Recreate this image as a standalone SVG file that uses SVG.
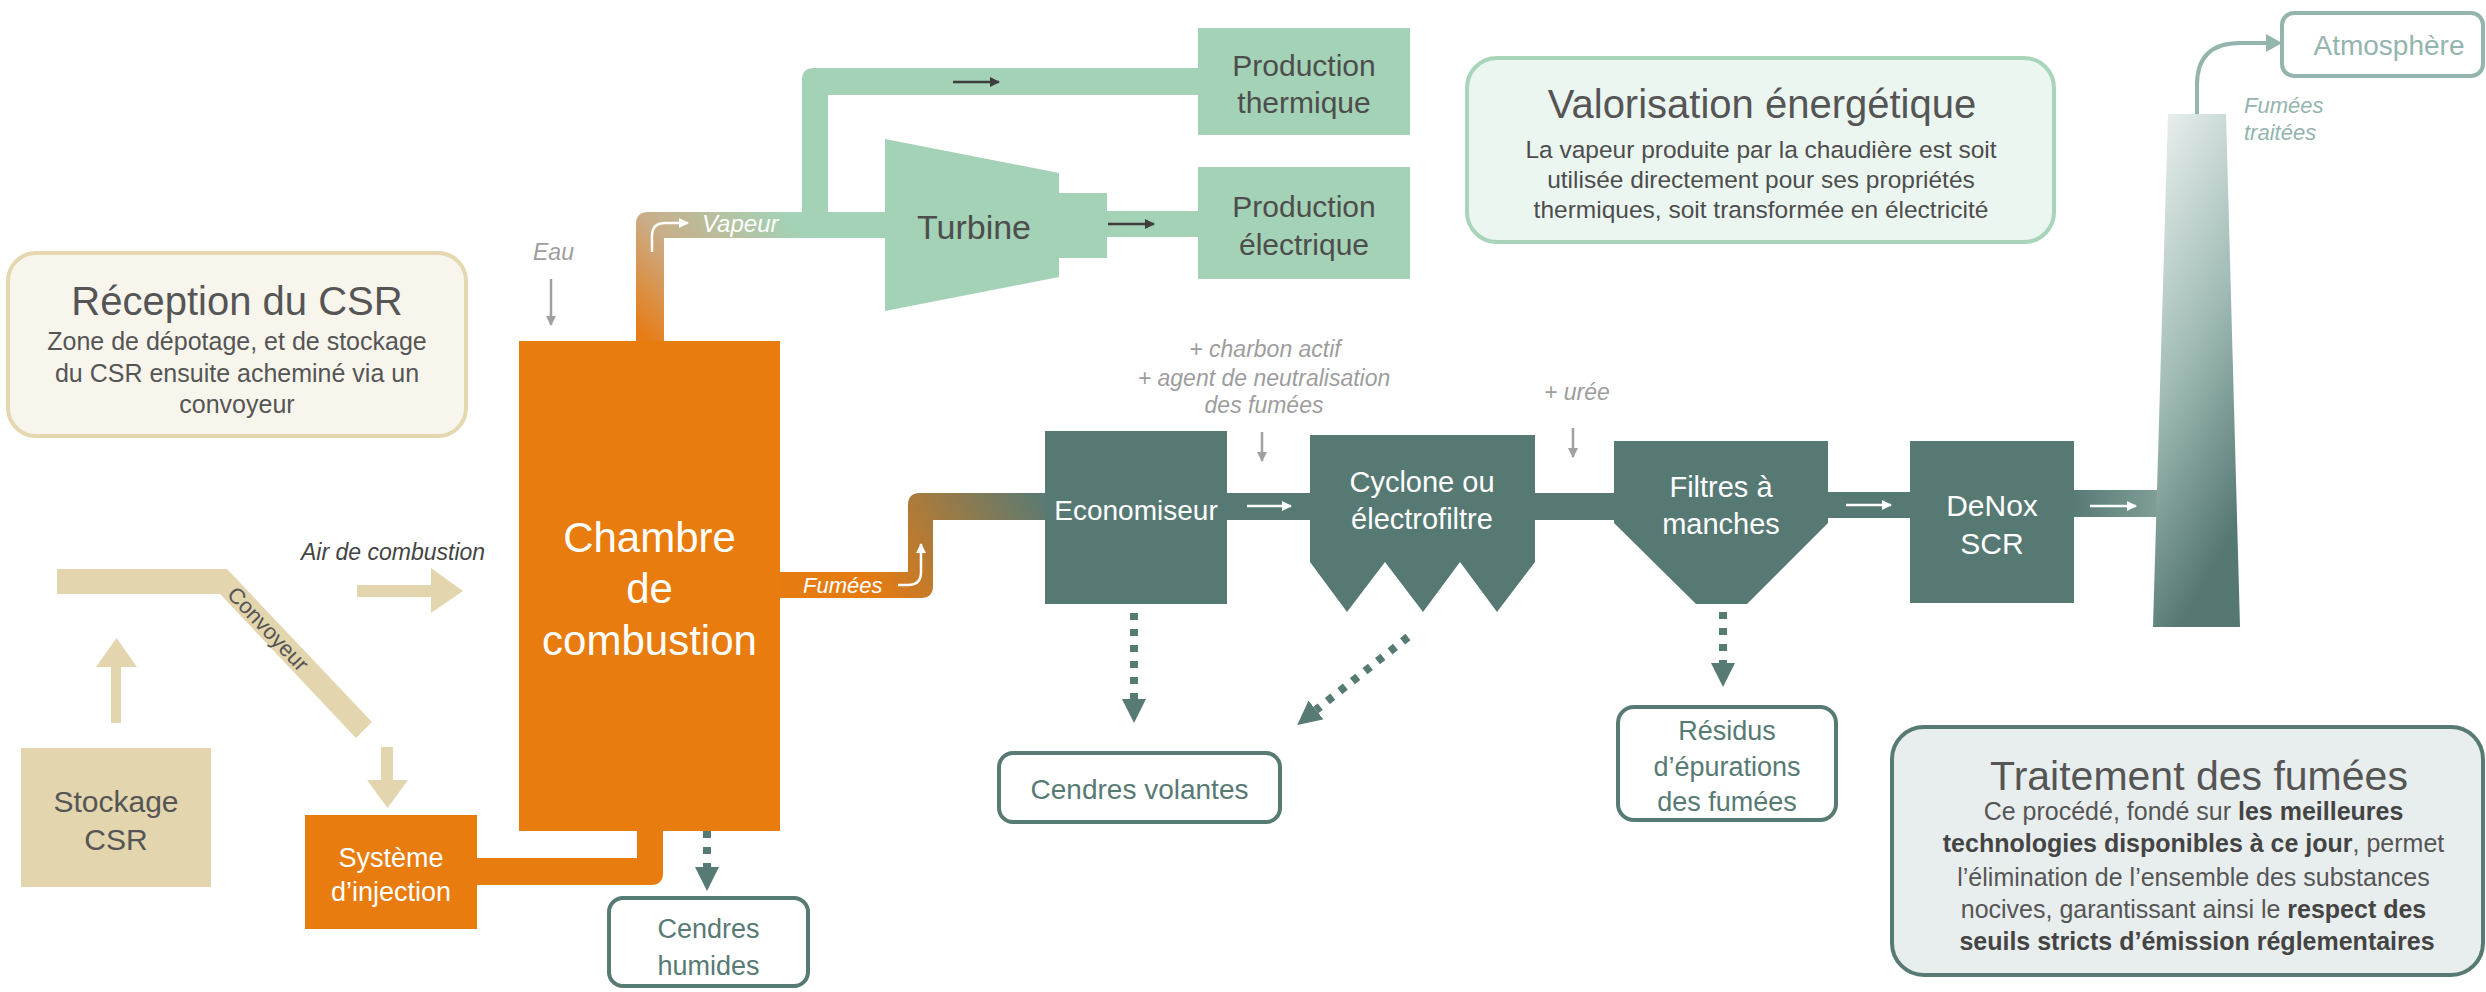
<svg xmlns="http://www.w3.org/2000/svg" width="2486" height="992" viewBox="0 0 2486 992">
<defs>
<style>
text{font-family:"Liberation Sans",Arial,sans-serif}
.m{text-anchor:middle}
.dk{fill:#4d4d4d}
.wt{fill:#fff}
.it{font-style:italic}
.gr{fill:#9d9d9d}
.tl{fill:#587a74}
.orange{fill:#e87c0e}
.beige{fill:#e3d5ad}
.green{fill:#a4d2b6}
.teal{fill:#577973}
.dash{stroke:#587a74;stroke-width:8;stroke-dasharray:7 9;fill:none}
.thin{fill:none;stroke-width:2.5}
.out{fill:#fff;stroke:#587a74;stroke-width:4}
</style>
<marker id="ah" viewBox="0 -12 24 24" refX="0" refY="0" markerWidth="24" markerHeight="24" markerUnits="userSpaceOnUse" orient="auto"><path d="M0 -12 L24 0 L0 12 Z" fill="#587a74"/></marker>
<marker id="aw" viewBox="0 -5 10 10" refX="9" refY="0" markerWidth="10" markerHeight="10" markerUnits="userSpaceOnUse" orient="auto"><path d="M0 -5 L10 0 L0 5 Z" fill="#fff"/></marker>
<marker id="ad" viewBox="0 -5 10 10" refX="9" refY="0" markerWidth="10" markerHeight="10" markerUnits="userSpaceOnUse" orient="auto"><path d="M0 -5 L10 0 L0 5 Z" fill="#3d3d3d"/></marker>
<marker id="ag" viewBox="0 -5 10 10" refX="9" refY="0" markerWidth="10" markerHeight="10" markerUnits="userSpaceOnUse" orient="auto"><path d="M0 -5 L10 0 L0 5 Z" fill="#a0a0a0"/></marker>
<marker id="aa" viewBox="0 -9 16 18" refX="0" refY="0" markerWidth="16" markerHeight="18" markerUnits="userSpaceOnUse" orient="auto"><path d="M0 -9 L16 0 L0 9 Z" fill="#94b4ae"/></marker>
<linearGradient id="gVap" gradientUnits="userSpaceOnUse" x1="650" y1="341" x2="780" y2="212">
<stop offset="0" stop-color="#e67d18"/><stop offset="0.45" stop-color="#c9ad88"/><stop offset="1" stop-color="#a4d2b6"/>
</linearGradient>
<linearGradient id="gFum" gradientUnits="userSpaceOnUse" x1="880" y1="600" x2="1045" y2="495">
<stop offset="0" stop-color="#e67b12"/><stop offset="1" stop-color="#587a74"/>
</linearGradient>
<linearGradient id="gOut" x1="0" y1="0" x2="1" y2="0">
<stop offset="0" stop-color="#587a74"/><stop offset="1" stop-color="#819f99"/>
</linearGradient>
<linearGradient id="gChim" x1="0" y1="0" x2="0.3" y2="1">
<stop offset="0" stop-color="#eef3f2"/><stop offset="0.55" stop-color="#9fbab5"/><stop offset="1" stop-color="#567873"/>
</linearGradient>
</defs>

<g id="connectors">
<!-- conveyor -->
<polygon class="beige" points="57,569 227,569 372,722 356,738 220,594 57,594"/>
<text transform="translate(268,629) rotate(46.5)" class="m" font-size="22" fill="#555" dominant-baseline="central">Convoyeur</text>
<polygon class="beige" points="111,723 111,667 96,667 116.5,638 137,667 121,667 121,723"/>
<polygon class="beige" points="381,747 393,747 393,780 408,780 387.5,808 367,780 381,780"/>
<polygon class="beige" points="357,585 431,585 431,568 463,591 431,613 431,597 357,597"/>
<!-- orange pipes -->
<path class="orange" d="M476 858 H637 V829 H663 V873 Q663 885 651 885 H476 Z"/>
<path fill="url(#gVap)" d="M636 343 V224 Q636 212 648 212 H887 V238 H664 V343 Z"/>
<path fill="url(#gFum)" d="M778 572 H908 V505 Q908 493 920 493 H1047 V520 H933 V586 Q933 598 921 598 H778 Z"/>
<path class="thin" stroke="#fff" marker-end="url(#aw)" d="M652 252 V236 Q652 223 665 223 H688"/>
<path class="thin" stroke="#fff" marker-end="url(#aw)" d="M898 585 H908 Q921 585 921 572 V544"/>
<!-- green pipes -->
<path class="green" d="M802 214 V80 Q802 68 814 68 H1200 V95 H828 V214 Z"/>
<rect class="green" x="1105" y="211" width="95" height="26"/>
<line class="thin" stroke="#3d3d3d" marker-end="url(#ad)" x1="953" y1="82" x2="999" y2="82"/>
<line class="thin" stroke="#3d3d3d" marker-end="url(#ad)" x1="1108" y1="224" x2="1154" y2="224"/>
<!-- teal pipes -->
<rect class="teal" x="1225" y="493" width="87" height="27"/>
<rect class="teal" x="1533" y="493" width="83" height="27"/>
<rect class="teal" x="1826" y="492" width="86" height="26"/>
<rect fill="url(#gOut)" x="2072" y="490" width="88" height="27"/>
<line class="thin" stroke="#fff" marker-end="url(#aw)" x1="1247" y1="506" x2="1291" y2="506"/>
<line class="thin" stroke="#fff" marker-end="url(#aw)" x1="1846" y1="505" x2="1891" y2="505"/>
<line class="thin" stroke="#fff" marker-end="url(#aw)" x1="2090" y1="506" x2="2136" y2="506"/>
<!-- small gray inputs -->
<line class="thin" stroke="#a0a0a0" stroke-width="2" marker-end="url(#ag)" x1="551" y1="279" x2="551" y2="325"/>
<line class="thin" stroke="#a0a0a0" stroke-width="2" marker-end="url(#ag)" x1="1262" y1="432" x2="1262" y2="461"/>
<line class="thin" stroke="#a0a0a0" stroke-width="2" marker-end="url(#ag)" x1="1573" y1="428" x2="1573" y2="457"/>
<!-- residue dashed arrows -->
<line class="dash" marker-end="url(#ah)" x1="707" y1="831" x2="707" y2="867"/>
<line class="dash" marker-end="url(#ah)" x1="1134" y1="613" x2="1134" y2="699"/>
<line class="dash" marker-end="url(#ah)" x1="1408" y1="637" x2="1316" y2="710"/>
<line class="dash" marker-end="url(#ah)" x1="1723" y1="612" x2="1723" y2="663"/>
<!-- to atmosphere -->
<path fill="none" stroke="#94b4ae" stroke-width="4" marker-end="url(#aa)" d="M2197 116 V85 Q2197 43 2240 43 H2266"/>
</g>

<g id="reception">
<rect x="8" y="253" width="458" height="183" rx="28" fill="#f8f5ed" stroke="#e5d8b0" stroke-width="4"/>
<text x="237" y="315" class="m" font-size="40" fill="#555">Réception du CSR</text>
<text class="m" font-size="25" fill="#555"><tspan x="237" y="350">Zone de dépotage, et de stockage</tspan><tspan x="237" y="382">du CSR ensuite acheminé via un</tspan><tspan x="237" y="413">convoyeur</tspan></text>
</g>

<g id="stockage">
<rect class="beige" x="21" y="748" width="190" height="139"/>
<text class="m" font-size="30" fill="#555"><tspan x="116" y="812">Stockage</tspan><tspan x="116" y="850">CSR</tspan></text>
</g>

<g id="air">
<text x="301" y="560" class="it" font-size="23" fill="#444">Air de combustion</text>
</g>

<g id="injection">
<rect class="orange" x="305" y="815" width="172" height="114"/>
<text class="m wt" font-size="27"><tspan x="391" y="867">Système</tspan><tspan x="391" y="901">d’injection</tspan></text>
</g>

<g id="chambre">
<rect class="orange" x="519" y="341" width="261" height="490"/>
<text class="m wt" font-size="42"><tspan x="649.5" y="552">Chambre</tspan><tspan x="649.5" y="603">de</tspan><tspan x="649.5" y="655">combustion</tspan></text>
</g>

<g id="labels-flux">
<text x="533" y="260" class="it gr" font-size="23">Eau</text>
<text x="702" y="232" class="it wt" font-size="24">Vapeur</text>
<text x="803" y="593" class="it wt" font-size="22">Fumées</text>
<text class="m it gr" font-size="23"><tspan x="1265" y="357">+ charbon actif</tspan><tspan x="1264" y="386">+ agent de neutralisation</tspan><tspan x="1264" y="413">des fumées</tspan></text>
<text x="1544" y="400" class="it gr" font-size="23">+ urée</text>
<text class="it" font-size="22" fill="#94b4ae"><tspan x="2244" y="113">Fumées</tspan><tspan x="2244" y="140">traitées</tspan></text>
</g>

<g id="cendres-humides">
<rect class="out" x="609" y="898" width="199" height="88" rx="14"/>
<text class="m tl" font-size="27"><tspan x="708.5" y="938">Cendres</tspan><tspan x="708.5" y="975">humides</tspan></text>
</g>

<g id="turbine">
<polygon class="green" points="885,139 1059,173 1059,193 1107,193 1107,258 1059,258 1059,277 885,311"/>
<text x="974" y="239" class="m dk" font-size="34">Turbine</text>
</g>

<g id="prod-thermique">
<rect class="green" x="1198" y="28" width="212" height="107"/>
<text class="m dk" font-size="30"><tspan x="1304" y="76">Production</tspan><tspan x="1304" y="113">thermique</tspan></text>
</g>

<g id="prod-electrique">
<rect class="green" x="1198" y="167" width="212" height="112"/>
<text class="m dk" font-size="30"><tspan x="1304" y="217">Production</tspan><tspan x="1304" y="255">électrique</tspan></text>
</g>

<g id="valorisation">
<rect x="1467" y="58" width="587" height="184" rx="30" fill="#ecf6f0" stroke="#a8d5b9" stroke-width="4"/>
<text x="1762" y="118" class="m" font-size="40" fill="#555">Valorisation énergétique</text>
<text class="m" font-size="24.5" fill="#4d4d4d"><tspan x="1761" y="158">La vapeur produite par la chaudière est soit</tspan><tspan x="1761" y="188">utilisée directement pour ses propriétés</tspan><tspan x="1761" y="218">thermiques, soit transformée en électricité</tspan></text>
</g>

<g id="economiseur">
<rect class="teal" x="1045" y="431" width="182" height="173"/>
<text x="1136" y="520" class="m wt" font-size="28">Economiseur</text>
</g>

<g id="cyclone">
<polygon class="teal" points="1310,435 1535,435 1535,562 1497,612 1460,562 1423,612 1385,562 1347,612 1310,562"/>
<text class="m wt" font-size="29"><tspan x="1422" y="492">Cyclone ou</tspan><tspan x="1422" y="529">électrofiltre</tspan></text>
</g>

<g id="filtres">
<polygon class="teal" points="1614,441 1828,441 1828,523 1747,604 1696,604 1614,523"/>
<text class="m wt" font-size="29"><tspan x="1721" y="497">Filtres à</tspan><tspan x="1721" y="534">manches</tspan></text>
</g>

<g id="denox">
<rect class="teal" x="1910" y="441" width="164" height="162"/>
<text class="m wt" font-size="30"><tspan x="1992" y="516">DeNox</tspan><tspan x="1992" y="554">SCR</tspan></text>
</g>

<g id="cheminee">
<polygon fill="url(#gChim)" points="2168,114 2226,114 2240,627 2153,627"/>
</g>

<g id="atmosphere">
<rect x="2282" y="13" width="201" height="63" rx="12" fill="#fff" stroke="#94b4ae" stroke-width="4"/>
<text x="2389" y="55" class="m" font-size="28" fill="#94b4ae">Atmosphère</text>
</g>

<g id="cendres-volantes">
<rect class="out" x="999" y="753" width="281" height="69" rx="14"/>
<text x="1139.5" y="799" class="m tl" font-size="28">Cendres volantes</text>
</g>

<g id="residus">
<rect class="out" x="1618" y="707" width="218" height="113" rx="16"/>
<text class="m tl" font-size="27"><tspan x="1727" y="740">Résidus</tspan><tspan x="1727" y="776">d’épurations</tspan><tspan x="1727" y="811">des fumées</tspan></text>
</g>

<g id="traitement">
<rect x="1892" y="727" width="591" height="248" rx="32" fill="#e8eeed" stroke="#587a74" stroke-width="4"/>
<text x="2199" y="790" class="m" font-size="41" fill="#555">Traitement des fumées</text>
<text class="m" font-size="25" fill="#555">
<tspan x="2197" y="820">Ce procédé, fondé sur <tspan font-weight="bold" fill="#444">les meilleures</tspan></tspan>
<tspan x="2197" y="852"><tspan font-weight="bold" fill="#444">technologies disponibles à ce jour</tspan>, permet</tspan>
<tspan x="2197" y="886">l’élimination de l’ensemble des substances</tspan>
<tspan x="2197" y="918">nocives, garantissant ainsi le <tspan font-weight="bold" fill="#444">respect des</tspan></tspan>
<tspan x="2197" y="950" font-weight="bold" fill="#444">seuils stricts d’émission réglementaires</tspan>
</text>
</g>
</svg>
